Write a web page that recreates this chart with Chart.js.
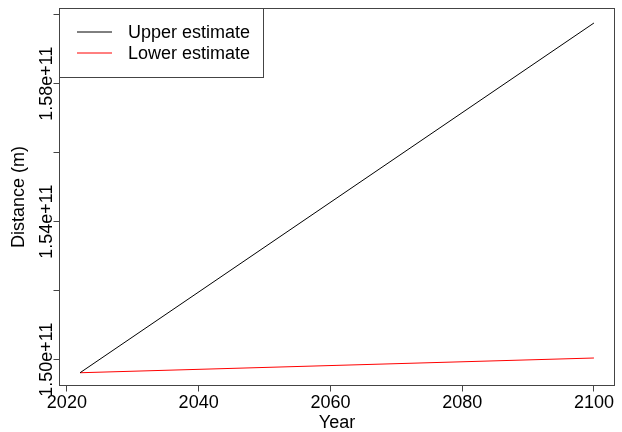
<!DOCTYPE html>
<html>
<head>
<meta charset="utf-8">
<script src="https://cdn.jsdelivr.net/npm/chart.js@4/dist/chart.umd.min.js"></script>
<style>
  html, body { margin: 0; padding: 0; background: #ffffff; }
  #wrap { width: 622px; height: 432px; }
</style>
</head>
<body>
<div id="wrap"><canvas id="chart" width="622" height="432"></canvas></div>
<script>
// Projected Earth–Sun distance, metres
const years = [2022, 2100];
const upperEstimate = [1.4962e11, 1.5976e11];
const lowerEstimate = [1.4962e11, 1.50047e11];

const seriesNames = ['Upper estimate', 'Lower estimate'];
const seriesColors = ['#000000', '#ff0000'];

const xTicks = [2020, 2040, 2060, 2080, 2100];
const yTicks = [1.50e11, 1.52e11, 1.54e11, 1.56e11, 1.58e11, 1.60e11];
const yLabelledTicks = [1.50e11, 1.54e11, 1.58e11];

const FONT = '"Liberation Sans", Arial, Helvetica, sans-serif';
const FRAME = '#444444';

function toPoints(xs, ys) {
  return xs.map((x, i) => ({ x: x, y: ys[i] }));
}

// Frame around the plotting region
const frame = {
  id: 'frame',
  afterDatasetsDraw(chart) {
    const { ctx, chartArea: a } = chart;
    ctx.save();
    ctx.strokeStyle = FRAME;
    ctx.lineWidth = 1;
    ctx.strokeRect(a.left, a.top, a.right - a.left, a.bottom - a.top);
    ctx.restore();
  }
};

// Boxed legend in the top-left corner of the plot
const boxedLegend = {
  id: 'boxedLegend',
  afterDatasetsDraw(chart) {
    const { ctx, chartArea: a } = chart;
    const x0 = a.left, y0 = a.top;
    const w = 204, h = 69;
    ctx.save();
    ctx.fillStyle = '#ffffff';
    ctx.fillRect(x0, y0, w, h);
    ctx.strokeStyle = FRAME;
    ctx.lineWidth = 1;
    ctx.strokeRect(x0, y0, w, h);
    ctx.font = '18px ' + FONT;
    ctx.textBaseline = 'middle';
    ctx.textAlign = 'left';
    seriesNames.forEach((name, i) => {
      const y = Math.round(y0 + 23.5 + i * 21);
      ctx.strokeStyle = seriesColors[i];
      ctx.lineWidth = 1;
      ctx.beginPath();
      ctx.moveTo(x0 + 17.5, y);
      ctx.lineTo(x0 + 52.5, y);
      ctx.stroke();
      ctx.fillStyle = '#000000';
      ctx.fillText(name, x0 + 68.5, y + 1);
    });
    ctx.restore();
  }
};

new Chart(document.getElementById('chart').getContext('2d'), {
  type: 'line',
  data: {
    datasets: [
      {
        label: seriesNames[0],
        data: toPoints(years, upperEstimate),
        borderColor: seriesColors[0],
        borderWidth: 1,
        pointRadius: 0,
        tension: 0,
        fill: false
      },
      {
        label: seriesNames[1],
        data: toPoints(years, lowerEstimate),
        borderColor: seriesColors[1],
        borderWidth: 1,
        pointRadius: 0,
        tension: 0,
        fill: false
      }
    ]
  },
  options: {
    responsive: false,
    animation: false,
    devicePixelRatio: 1,
    layout: { padding: { top: 8.5, right: 7.5, left: 0.5, bottom: 0 } },
    plugins: {
      legend: { display: false },
      tooltip: { enabled: false }
    },
    scales: {
      x: {
        type: 'linear',
        min: 2018.88,
        max: 2103.12,
        afterBuildTicks: s => { s.ticks = xTicks.map(v => ({ value: v })); },
        afterFit: s => { s.height = 46.5; },
        border: { display: false },
        grid: { drawOnChartArea: false, drawTicks: true, tickLength: 6, color: FRAME, lineWidth: 1 },
        ticks: {
          autoSkip: false,
          maxRotation: 0,
          minRotation: 0,
          padding: 1,
          color: '#000000',
          font: { family: FONT, size: 18 },
          callback: v => String(v)
        },
        title: {
          display: true,
          text: 'Year',
          color: '#000000',
          font: { family: FONT, size: 18, lineHeight: 1 },
          padding: 0
        }
      },
      y: {
        type: 'linear',
        min: 1.4925e11,
        max: 1.6018e11,
        afterBuildTicks: s => { s.ticks = yTicks.map(v => ({ value: v })); },
        afterFit: s => { s.width = 59; },
        border: { display: false },
        grid: { drawOnChartArea: false, drawTicks: true, tickLength: 6, color: FRAME, lineWidth: 1 },
        ticks: {
          autoSkip: false,
          minRotation: 90,
          maxRotation: 90,
          crossAlign: 'center',
          padding: -30.8,
          color: '#000000',
          font: { family: FONT, size: 18 },
          callback: v => (yLabelledTicks.includes(v) ? v.toExponential(2) : '')
        },
        title: {
          display: true,
          text: 'Distance (m)',
          color: '#000000',
          font: { family: FONT, size: 18, lineHeight: 1 },
          padding: { top: 10, bottom: 0 }
        }
      }
    }
  },
  plugins: [frame, boxedLegend]
});
</script>
</body>
</html>
